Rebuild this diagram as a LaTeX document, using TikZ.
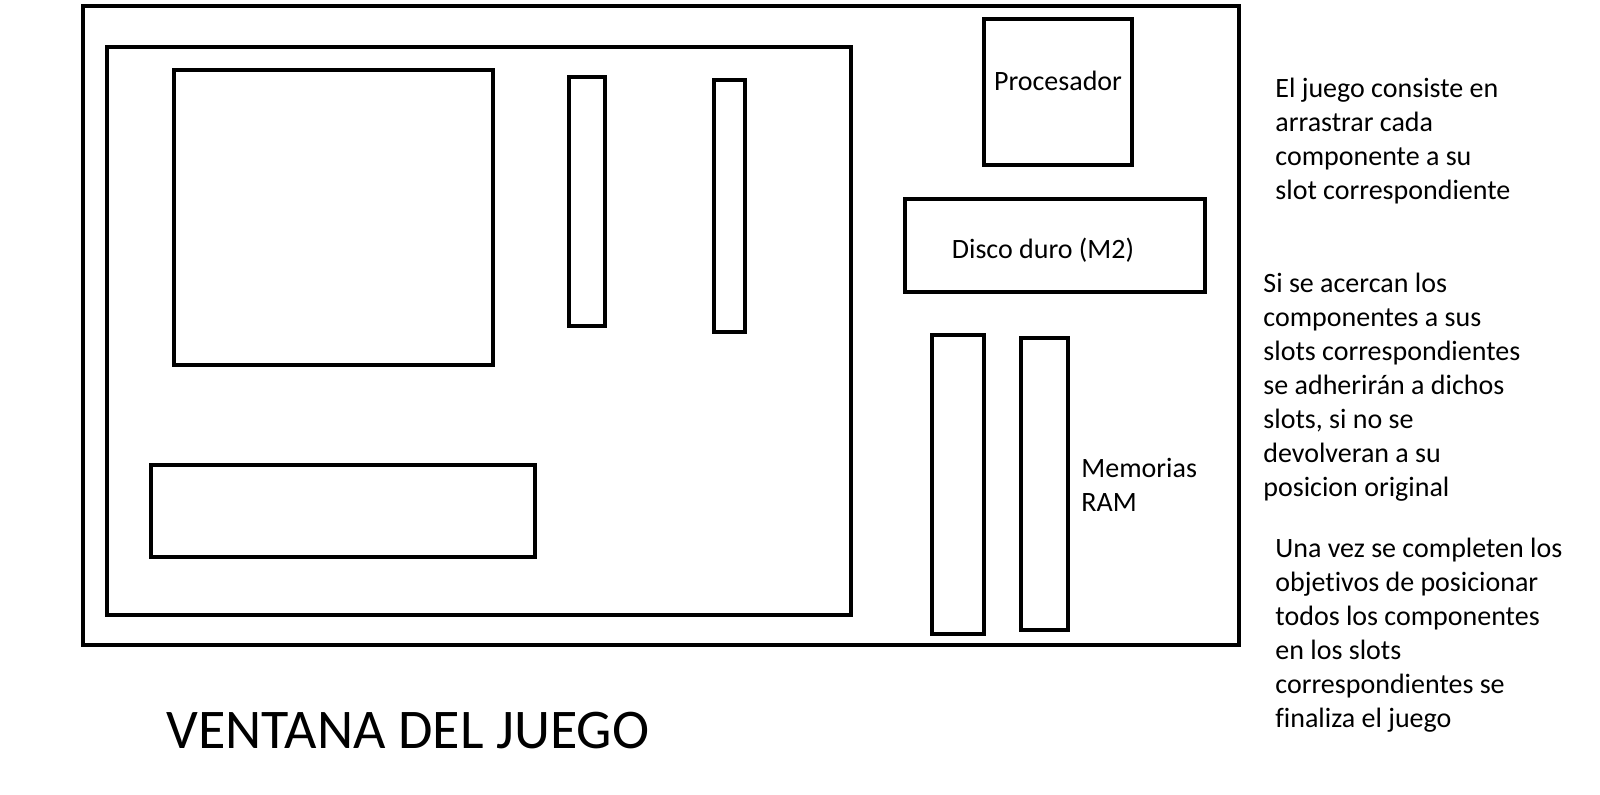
\documentclass[tikz,border=0pt]{standalone}
\usepackage{fontspec}
\setmainfont{Carlito}[Ligatures=NoCommon]
\usetikzlibrary{positioning}

\tikzset{
  caja/.style = {draw, line width=2.2pt},
  texto/.style = {inner sep=0pt, font=\fontsize{14}{17}\selectfont},
  nota/.style = {texto, align=left, anchor=west},
}

\begin{document}
\begin{tikzpicture}[x=0.5pt, y=-0.5pt]
			\useasboundingbox (0,0) rectangle (1600,794);
			
			% ventana y placa
			\draw[caja] (83,6) rectangle (1239,645);
			\draw[caja] (107,47) rectangle (851,615);
			
			% slots de la placa
			\draw[caja] (174,70) rectangle (493,365);
			\draw[caja] (569,77) rectangle (605,326);
			\draw[caja] (714,80) rectangle (745,332);
			\draw[caja] (151,465) rectangle (535,557);
			
			% componentes
			\draw[caja] (984,19) rectangle (1132,165);
			\draw[caja] (905,199) rectangle (1205,292);
			\draw[caja] (932,335) rectangle (984,634);
			\draw[caja] (1021,338) rectangle (1068,630);
			
			\node[texto] (cpu) at (1058,81) {Procesador};
			\node[texto] (disco) at (1043,250) {Disco duro (M2)};
			\node[nota] (ram) at (1081,485) {Memorias\\RAM};
			
			% notas
			\node[nota] (n1) at (1275,141) {El juego consiste en\\arrastrar cada\\componente a su\\slot correspondiente};
			\node[nota] (n2) at (1263,387) {Si se acercan los\\componentes a sus\\slots correspondientes\\se adherirán a dichos\\slots, si no se\\devolveran a su\\posicion original};
			\node[nota] (n3) at (1275,635) {Una vez se completen los\\objetivos de posicionar\\todos los componentes\\en los slots\\correspondientes se\\finaliza el juego};
			
			\node[inner sep=0pt, anchor=base, font=\fontsize{28}{33}\selectfont] (titulo) at (408,748) {VENTANA DEL JUEGO};
		\end{tikzpicture}
\end{document}
